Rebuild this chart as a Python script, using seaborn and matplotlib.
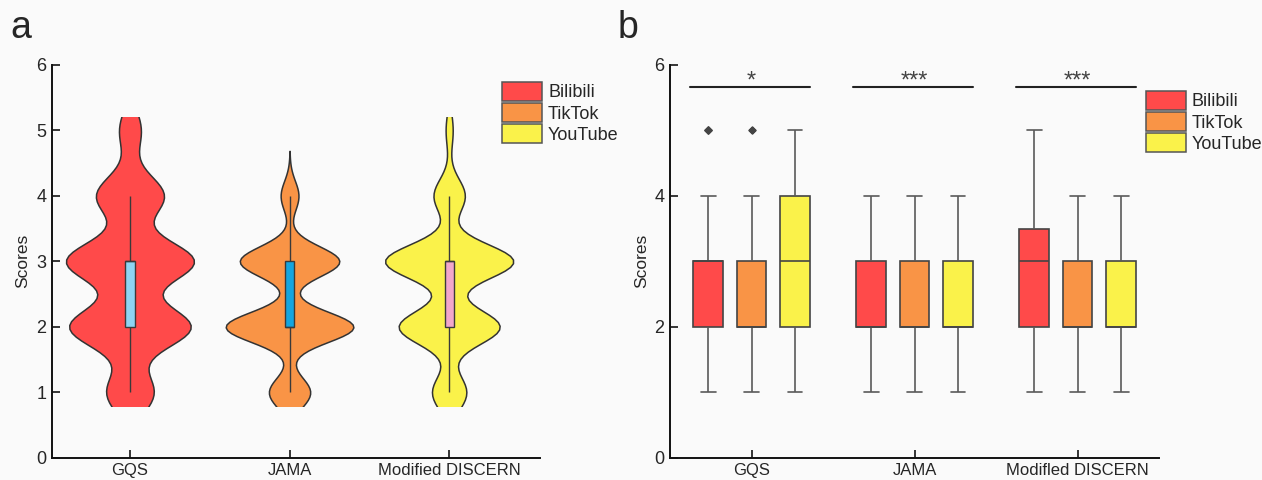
import numpy as np
import pandas as pd
import matplotlib
matplotlib.use("Agg")
import matplotlib.pyplot as plt
import seaborn as sns
from matplotlib.patches import Patch, Rectangle

tools = ["GQS", "JAMA", "Modified DISCERN"]
tool_labels_b = ["GQS", "JAMA", "Modifled DISCERN"]
platforms = ["Bilibili", "TikTok", "YouTube"]
score_levels = [1, 2, 3, 4, 5]

# number of videos at each score level 1..5
gqs_bilibili = [14, 34, 34, 14, 4]
gqs_tiktok = [14, 38, 34, 12, 2]
gqs_youtube = [9, 23, 32, 27, 11]
jama_bilibili = [15, 45, 35, 7, 0]
jama_tiktok = [14, 46, 36, 6, 0]
jama_youtube = [15, 45, 35, 6, 0]
discern_bilibili = [9, 22, 43, 18, 7]
discern_tiktok = [13, 39, 42, 7, 0]
discern_youtube = [12, 39, 42, 6, 0]

sig_labels = ["*", "***", "***"]

platform_colors = ["#FF4A4A", "#F99446", "#FAF24A"]
inner_colors = ["#8ED4F2", "#14A5DF", "#F2A7CB"]


def build_frame():
    counts = {
        ("GQS", "Bilibili"): gqs_bilibili,
        ("GQS", "TikTok"): gqs_tiktok,
        ("GQS", "YouTube"): gqs_youtube,
        ("JAMA", "Bilibili"): jama_bilibili,
        ("JAMA", "TikTok"): jama_tiktok,
        ("JAMA", "YouTube"): jama_youtube,
        ("Modified DISCERN", "Bilibili"): discern_bilibili,
        ("Modified DISCERN", "TikTok"): discern_tiktok,
        ("Modified DISCERN", "YouTube"): discern_youtube,
    }
    rows = []
    for (tool, plat), c in counts.items():
        for s, n in zip(score_levels, c):
            rows += [(tool, plat, s)] * n
    return pd.DataFrame(rows, columns=["tool", "platform", "score"])


df = build_frame()

sns.set_style("ticks")
plt.rcParams["font.family"] = ["Liberation Sans", "DejaVu Sans"]
plt.rcParams["font.size"] = 12

bg = "#FAFAFA"
fig = plt.figure(figsize=(12.62, 4.8), dpi=100, facecolor=bg)
ax_a = fig.add_axes([0.041, 0.046, 0.387, 0.819])
ax_b = fig.add_axes([0.531, 0.046, 0.3875, 0.819])

# ---- panel a: violins ----
n_before = len(ax_a.collections)
sns.violinplot(
    data=df, x="tool", y="score", hue="tool", order=tools, hue_order=tools,
    palette=platform_colors, saturation=1, inner=None, cut=3, bw_adjust=0.9,
    density_norm="width", width=0.8, linewidth=1.1, linecolor="#333333",
    legend=False, ax=ax_a,
)
# flat ends like the original, trimmed at 0.8 and 5.2
clip = Rectangle((-1, 0.8), 5, 4.4, transform=ax_a.transData)
for coll in ax_a.collections[n_before:]:
    coll.set_clip_path(clip)

sns.boxplot(
    data=df, x="tool", y="score", hue="tool", order=tools, hue_order=tools,
    palette=inner_colors, saturation=1, width=0.058, showfliers=False,
    showcaps=False, linewidth=1.0, linecolor="#3a3a3a", legend=False, ax=ax_a,
)

# ---- panel b: grouped boxes ----
sns.boxplot(
    data=df, x="tool", y="score", hue="platform", order=tools, hue_order=platforms,
    palette=platform_colors, saturation=1, width=0.8, gap=0.32, linewidth=1.2,
    linecolor="#444444", legend=False, ax=ax_b,
    flierprops=dict(marker="D", markersize=3.5, markerfacecolor="#444444",
                    markeredgecolor="#444444"),
    whiskerprops=dict(color="#5a5a5a"), capprops=dict(color="#5a5a5a"),
)

for i, lab in enumerate(sig_labels):
    ax_b.plot([i - 0.38, i + 0.36], [5.66, 5.66], color="#222222", lw=1.5)
    ax_b.text(i, 5.66, lab, ha="center", va="baseline", fontsize=17, color="#444444")

for ax, xl, ticks in [(ax_a, (-0.49, 2.57), range(7)), (ax_b, (-0.50, 2.50), [0, 2, 4, 6])]:
    ax.set_facecolor(bg)
    ax.set_xlim(*xl)
    ax.set_ylim(0, 6)
    ax.set_yticks(list(ticks))
    ax.set_xlabel("")
    ax.set_ylabel("Scores", fontsize=12.5)
    sns.despine(ax=ax)
    for sp in ["left", "bottom"]:
        ax.spines[sp].set_linewidth(1.4)
        ax.spines[sp].set_color("#111111")
    ax.tick_params(direction="in", length=6, width=1.3, labelsize=12, pad=4)
    ax.tick_params(axis="y", labelsize=13)

ax_b.set_xticks(range(3))
ax_b.set_xticklabels(tool_labels_b)

handles = [Patch(facecolor=c, edgecolor="#555555", linewidth=1.1, label=p)
           for c, p in zip(platform_colors, platforms)]
for ax, anchor in [(ax_a, (0.922, 0.956)), (ax_b, (0.973, 0.933))]:
    ax.legend(handles=handles, loc="upper left", bbox_to_anchor=anchor, frameon=False,
              handlelength=2.2, handleheight=1.2, handletextpad=0.35,
              labelspacing=0.1, borderpad=0, borderaxespad=0, fontsize=13)

fig.text(0.008, 0.98, "a", fontsize=27, va="top", ha="left")
fig.text(0.489, 0.98, "b", fontsize=27, va="top", ha="left")

fig.savefig("out.png", dpi=100, facecolor=bg)
